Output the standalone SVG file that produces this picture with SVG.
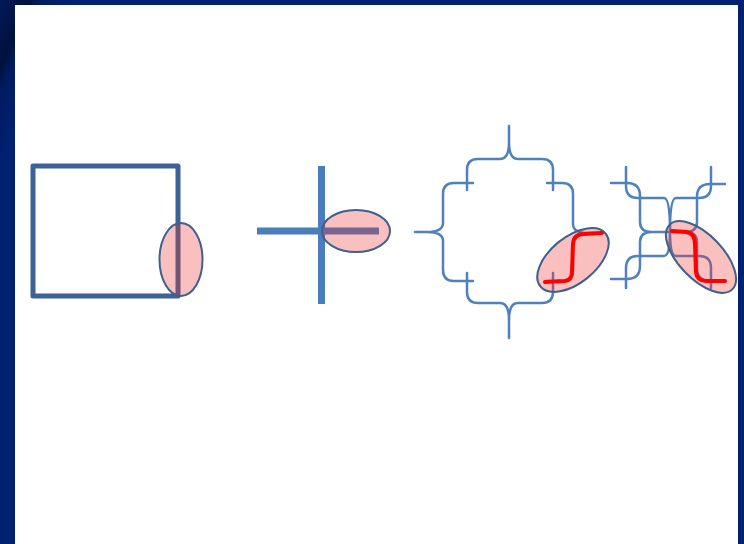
<svg xmlns="http://www.w3.org/2000/svg" width="744" height="544" viewBox="0 0 744 544">
  <defs>
    <!-- navy slide frame with a darker sheen in the top-left corner -->
    <linearGradient id="frameShade" gradientUnits="userSpaceOnUse" x1="-20" y1="40" x2="40" y2="66">
      <stop offset="0" stop-color="#001a5c"/>
      <stop offset="0.45" stop-color="#00123e"/>
      <stop offset="0.62" stop-color="#001c60"/>
      <stop offset="1" stop-color="#002070"/>
    </linearGradient>
    <style>
      .frame { fill: #002070; }
      .sheet { fill: #ffffff; }
      .square { fill: none; stroke: #3d6396; stroke-width: 5; stroke-linejoin: round; }
      .bar { stroke: #4a7dbb; stroke-width: 7; }
      .brace { fill: none; stroke: #4f81bd; stroke-width: 2.5; stroke-linejoin: round; stroke-linecap: round; }
      .zone { fill: #f03030; fill-opacity: 0.3; stroke: #3f5f8c; stroke-width: 2; }
      .trace { fill: none; stroke: #ff0000; stroke-width: 4; stroke-linejoin: round; stroke-linecap: round; }
    </style>
  </defs>

  <!-- background -->
  <rect class="frame" x="0" y="0" width="744" height="544"/>
  <rect x="0" y="0" width="120" height="160" fill="url(#frameShade)"/>
  <rect class="sheet" x="15" y="5" width="723" height="539"/>

  <!-- square with an edge zone -->
  <g id="square-figure">
    <rect class="square" x="33" y="166" width="145" height="130"/>
    <ellipse class="zone" cx="181" cy="259.5" rx="21.5" ry="36.5"/>
  </g>

  <!-- crossing bars -->
  <g id="cross-figure">
    <line class="bar" x1="257" y1="231" x2="379" y2="231"/>
    <line class="bar" x1="321.5" y1="166" x2="321.5" y2="304"/>
    <ellipse class="zone" cx="356" cy="231" rx="34" ry="21"/>
  </g>

  <!-- four braces around an open square -->
  <g id="brace-ring">
    <path class="brace" d="M467,190 L467,170 Q467,159 478,159 L500,159 Q509,159 509,142 L509,126 L509,142 Q509,159 518,159 L542,159 Q553,159 553,170 L553,190"/>
    <path class="brace" d="M473,183 L454,183 Q443,183 443,194 L443,223 Q443,232 427,232 L415,232 L427,232 Q443,232 443,241 L443,270 Q443,281 454,281 L473,281"/>
    <path class="brace" d="M467,273 L467,292 Q467,303 478,303 L500,303 Q509,303 509,320 L509,338 L509,320 Q509,303 518,303 L542,303 Q553,303 553,292 L553,273"/>
    <path class="brace" d="M547,183 L562,183 Q573,183 573,194 L573,224 Q573,233 588,233 L602,233 L588,233 Q573,233 573,242 L573,270 Q573,281 562,281 L547,281"/>
    <ellipse class="zone" cx="573" cy="260" rx="42" ry="23" transform="rotate(-39 573 260)"/>
    <path class="trace" d="M545,282 L565,281 Q572,280 572,272 L573,244 Q574,234 584,234 L602,233"/>
  </g>

  <!-- four braces meeting at one point -->
  <g id="brace-cross">
    <path class="brace" d="M626,167 L626,186 Q626,198 638,198 L664,198 Q670,198 670,232 Q670,198 676,198 L699,198 Q711,198 711,186 L711,167"/>
    <path class="brace" d="M611,183 L627,183 Q640,183 640,196 L640,222 Q640,232 652,232 L670,232 L652,232 Q640,232 640,242 L640,266 Q640,279 627,279 L611,279"/>
    <path class="brace" d="M626,288 L626,268 Q626,256 638,256 L664,256 Q670,256 670,232 Q670,256 676,256 L699,256 Q711,256 711,268 L711,288"/>
    <path class="brace" d="M725,184 L710,184 Q697,184 697,197 L697,222 Q697,232 685,232 L670,232 L685,232 Q697,232 697,242 L697,268 Q697,281 710,281 L725,281"/>
    <ellipse class="zone" cx="701" cy="257" rx="45" ry="22" transform="rotate(46 701 257)"/>
    <path class="trace" d="M672,231 L686,232 Q695,233 695,244 L696,272 Q697,281 706,281 L725,281"/>
  </g>
</svg>
